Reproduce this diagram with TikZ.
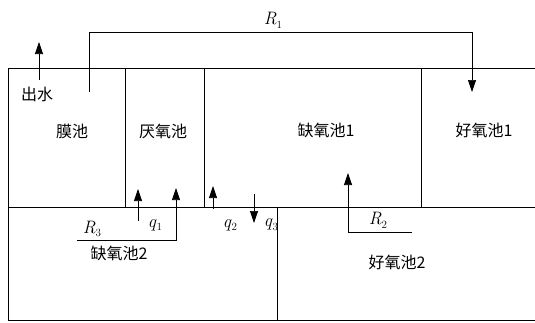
\documentclass[tikz,border=0pt]{standalone}
\usepackage{fontspec}
\newfontfamily\cjk{Noto Sans CJK SC}
\usetikzlibrary{arrows.meta}
\newcommand\vsub[2]{\textit{#1}\raisebox{-0.5ex}{\fontsize{11}{11}\selectfont #2}}
\begin{document}
\begin{tikzpicture}[x=1pt,y=-1pt,
  wall/.style={line width=0.8pt},
  flow/.style={line width=0.7pt,-{Triangle[length=12pt,width=8pt]}},
  tank/.style={font=\cjk\fontsize{16}{16}\selectfont,inner sep=0pt},
  lab/.style={font=\fontsize{18}{18}\selectfont,inner sep=0pt}]
\useasboundingbox (0,0) rectangle (535,322);
% walls
\draw[wall] (8,68) -- (535,68);
\draw[wall] (8,207) -- (535,207);
\draw[wall] (8,320) -- (535,320);
\draw[wall] (8,68) -- (8,320);
\draw[wall] (125,68) -- (125,207);
\draw[wall] (204,68) -- (204,207);
\draw[wall] (421,68) -- (421,207);
\draw[wall] (277,207) -- (277,320);
% tank labels
\node[tank] (mo) at (72,131) {膜池};
\node[tank] (yan) at (163,131) {厌氧池};
\node[tank] (que1) at (326,130) {缺氧池1};
\node[tank] (hao1) at (484,130) {好氧池1};
\node[tank] (que2) at (119,253) {缺氧池2};
\node[tank] (hao2) at (397,262) {好氧池2};
\node[tank] (out) at (37,94) {出水};
% outlet
\coordinate (outA) at (39,80);
\coordinate (outB) at (39,42);
\draw[flow] (outA) -- (outB);
% R1
\coordinate (r1a) at (89,92);
\coordinate (r1b) at (472,92);
\draw[flow] (r1a) -- (89,32) -- (472,32) -- (r1b);
\node[lab] (R1) at (273,20) {\vsub{R}{1}};
% q1
\coordinate (q1a) at (138,221);
\coordinate (q1b) at (138,189);
\draw[flow] (q1a) -- (q1b);
\node[lab] (q1) at (155,225) {\vsub{q}{1}};
% R3
\coordinate (r3a) at (77,240);
\coordinate (r3b) at (176,188);
\draw[flow] (r3a) -- (176,240) -- (r3b);
\node[lab] (R3) at (92,229) {\vsub{R}{3}};
% q2
\coordinate (q2a) at (213,209);
\coordinate (q2b) at (213,186);
\draw[flow] (q2a) -- (q2b);
\node[lab] (q2) at (230,225) {\vsub{q}{2}};
% q3
\coordinate (q3a) at (254,194);
\coordinate (q3b) at (254,223);
\draw[flow] (q3a) -- (q3b);
\node[lab] (q3) at (271,225) {\vsub{q}{3}};
% R2
\coordinate (r2a) at (412,232);
\coordinate (r2b) at (348,173);
\draw[flow] (r2a) -- (348,232) -- (r2b);
\node[lab] (R2) at (378,220) {\vsub{R}{2}};
\end{tikzpicture}
\end{document}
